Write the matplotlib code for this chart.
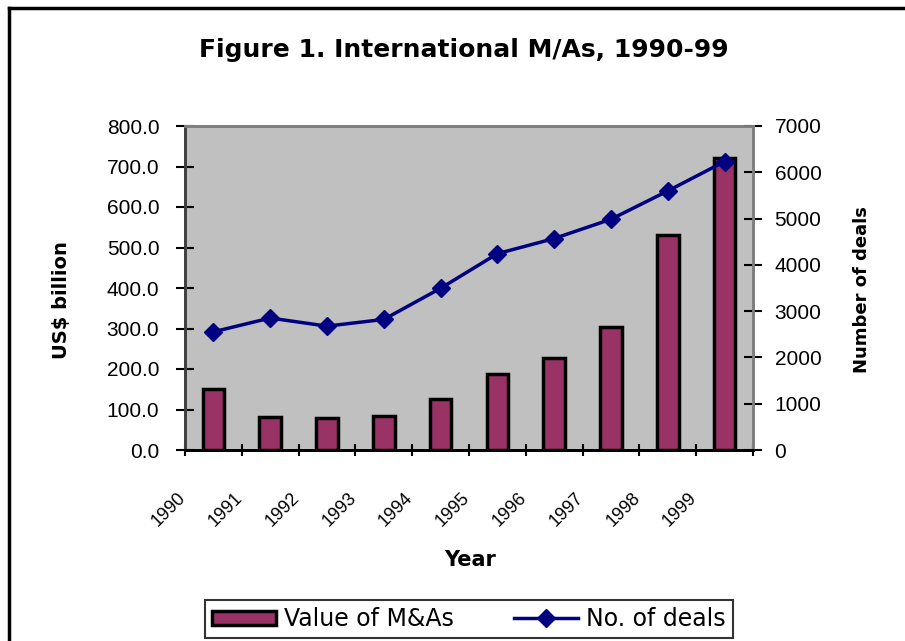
import numpy as np
import matplotlib.pyplot as plt
from matplotlib.lines import Line2D
from matplotlib.ticker import FormatStrFormatter
from matplotlib.transforms import ScaledTranslation

years = ["1990", "1991", "1992", "1993", "1994", "1995", "1996", "1997", "1998", "1999"]
value_bn = [150.6, 80.7, 79.3, 83.1, 127.1, 186.6, 227.0, 304.8, 531.6, 720.1]
deals = [2553, 2851, 2676, 2821, 3494, 4242, 4569, 4986, 5597, 6233]

plt.rcParams['font.family'] = ['Liberation Sans', 'DejaVu Sans']

fig = plt.figure(figsize=(9.05, 6.41), dpi=100)
ax = fig.add_axes([185 / 905, 1 - 450 / 641, 568 / 905, 324 / 641])
ax.set_facecolor('#c0c0c0')

x = np.arange(len(years)) + 0.5
bars = ax.bar(x, value_bn, width=0.38, color='#993366', edgecolor='black', linewidth=2.5,
              label='Value of M&As', zorder=2)
ax.set_xlim(0, len(years))
ax.set_ylim(0, 800)
ax.set_yticks(np.arange(0, 801, 100))
ax.yaxis.set_major_formatter(FormatStrFormatter('%.1f'))
ax.set_xticks(np.arange(0, len(years) + 1))
ax.set_xticklabels(years + [""], rotation=45, ha='right', rotation_mode='anchor', fontsize=13)
ax.tick_params(axis='x', direction='inout', length=9, width=1.5, pad=24)
ax.tick_params(axis='y', direction='inout', length=13, width=1.5, pad=12, labelsize=15)
shift = ScaledTranslation(-8 / 100, 0, fig.dpi_scale_trans)
for lbl in ax.get_xticklabels():
    lbl.set_transform(lbl.get_transform() + shift)

ax2 = ax.twinx()
line, = ax2.plot(x, deals, color='#000080', linewidth=2.5, marker='D', markersize=9.5,
                 label='No. of deals', zorder=3)
ax2.set_ylim(0, 7000)
ax2.set_yticks(np.arange(0, 7001, 1000))
ax2.tick_params(axis='y', direction='inout', length=13, width=1.5, pad=9, labelsize=15)

for a in (ax, ax2):
    a.spines['top'].set_color('#808080')
    a.spines['top'].set_linewidth(2)
    a.spines['right'].set_color('#808080')
    a.spines['right'].set_linewidth(2)
    a.spines['left'].set_color('#404040')
    a.spines['left'].set_linewidth(2)
    a.spines['bottom'].set_color('black')
    a.spines['bottom'].set_linewidth(2)

fig.text(0.512, 0.922, "Figure 1. International M/As, 1990-99", ha='center', va='center',
         fontsize=18, fontweight='bold', family='DejaVu Sans')
fig.text(0.519, 0.126, "Year", ha='center', va='center', fontsize=15, fontweight='bold',
         family='DejaVu Sans')
fig.text(0.0685, 0.532, "US$ billion", ha='center', va='center', rotation=90,
         fontsize=14, fontweight='bold', family='DejaVu Sans')
fig.text(0.952, 0.548, "Number of deals", ha='center', va='center', rotation=90,
         fontsize=13, fontweight='bold', family='DejaVu Sans')

leg = fig.legend([bars, line], ['Value of M&As', 'No. of deals'], loc='upper left',
                 bbox_to_anchor=(205 / 905, 1 - 600 / 641, 528 / 905, 0),
                 mode='expand', ncol=2,
                 prop={'family': 'DejaVu Sans', 'size': 17},
                 frameon=True, fancybox=False, edgecolor='black', handlelength=2.7,
                 handleheight=0.55, borderpad=0.3, columnspacing=0.5, handletextpad=0.35,
                 borderaxespad=0)
leg.get_frame().set_linewidth(1.5)

# outer chart border (only left and top visible in the crop)
fig.add_artist(Line2D([9 / 905, 9 / 905], [0, 1 - 8 / 641], color='black', linewidth=2.5,
                      transform=fig.transFigure))
fig.add_artist(Line2D([9 / 905, 1], [1 - 8 / 641, 1 - 8 / 641], color='black', linewidth=2.5,
                      transform=fig.transFigure))

fig.savefig('out.png', dpi=100)
